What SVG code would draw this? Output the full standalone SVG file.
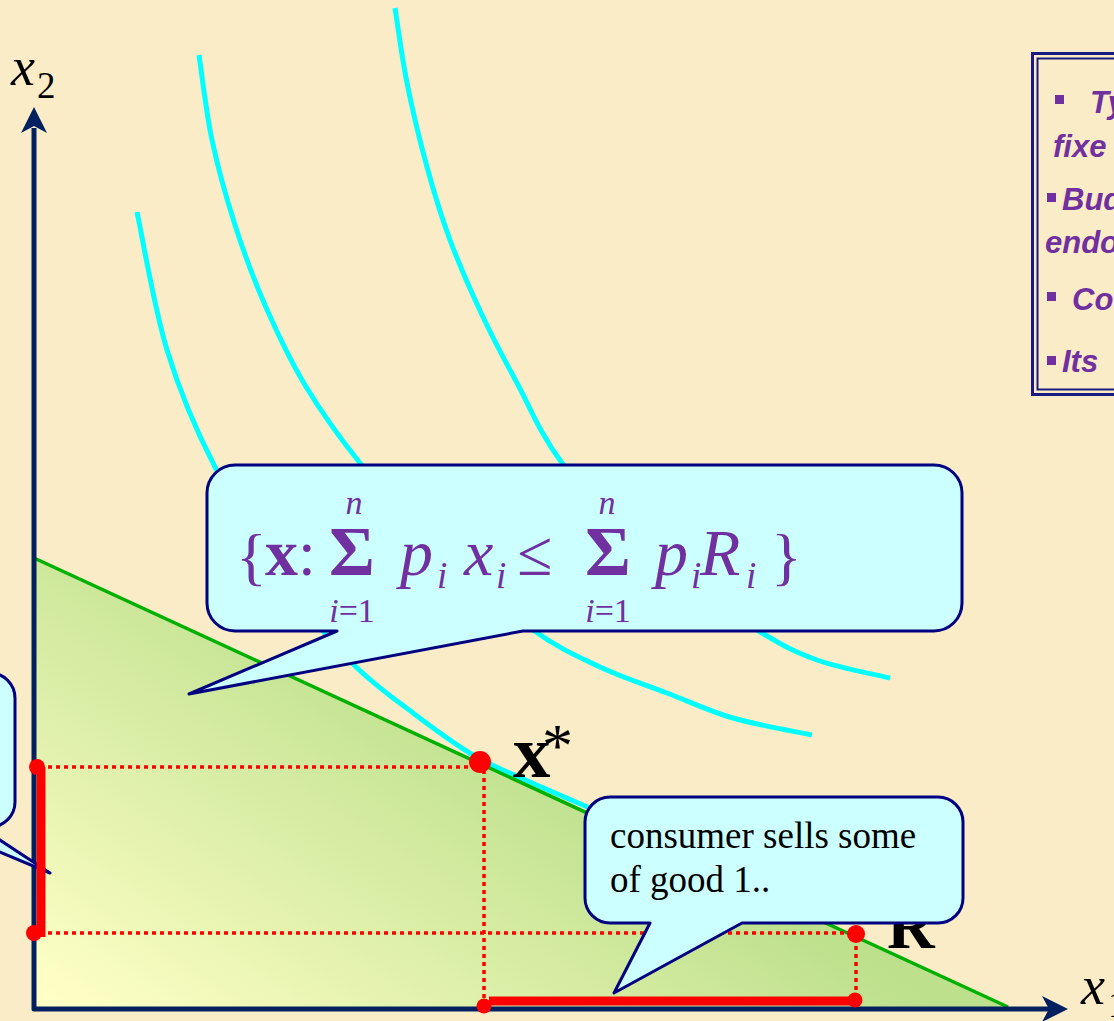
<svg xmlns="http://www.w3.org/2000/svg" width="1114" height="1021" viewBox="0 0 1114 1021">
  <style>
    .curve{fill:none;stroke:#00FFFF;stroke-width:5}
    .dot{fill:#FF0000}
    .dotted{fill:none;stroke:#FF0000;stroke-width:3.5;stroke-dasharray:4 4}
    .bar{fill:none;stroke:#FF0000;stroke-width:9}
    .bubble{fill:#CCFFFF;stroke:#000080;stroke-width:3;stroke-linejoin:round}
    .f{font-family:"Liberation Serif","Times New Roman",serif;fill:#7030A0}
    .fi{font-style:italic}
    .lab{font-family:"Liberation Serif","Times New Roman",serif;fill:#000}
    .panel{font-family:"Liberation Sans",Arial,sans-serif;font-weight:bold;font-style:italic;font-size:31px;fill:#7030A0}
    .bt{font-family:"Liberation Serif","Times New Roman",serif;font-size:37px;fill:#000}
  </style>
  <defs>
    <linearGradient id="budgetFill" gradientUnits="userSpaceOnUse" x1="60" y1="1008" x2="330" y2="600">
      <stop offset="0" stop-color="#FFFFC6"/>
      <stop offset="1" stop-color="#BCE08C"/>
    </linearGradient>
  </defs>
  <rect x="0" y="0" width="1114" height="1021" fill="#FBECC8"/>

  <g id="info-panel">
    <rect x="1032.5" y="53.5" width="200" height="341" fill="none" stroke="#1A1A80" stroke-width="3"/>
    <rect x="1037.5" y="58.5" width="200" height="331" fill="none" stroke="#1A1A80" stroke-width="2"/>
    <rect x="1055" y="95" width="9" height="9" fill="#7030A0"/>
    <text class="panel" x="1090" y="113">Ty</text>
    <text class="panel" x="1053" y="157">fixe</text>
    <rect x="1047" y="193" width="9" height="9" fill="#7030A0"/>
    <text class="panel" x="1062" y="210">Bud</text>
    <text class="panel" x="1045" y="253">endo</text>
    <rect x="1047" y="292" width="9" height="9" fill="#7030A0"/>
    <text class="panel" x="1072" y="310">Co</text>
    <rect x="1047" y="356" width="9" height="9" fill="#7030A0"/>
    <text class="panel" x="1062" y="372">Its</text>
  </g>

  <g id="indifference-curves">
    <path id="ic1" class="curve" d="M137,212 C142,235 154,307.5 167,350 C180,392.5 194.5,427.3 215,467 C235.5,506.7 267.2,555.3 290,588 C312.8,620.7 331.5,642.2 352,663 C372.5,683.8 392.8,697.7 413,713 C433.2,728.3 453.5,743.5 473,755 C492.5,766.5 510.5,773.2 530,782 C549.5,790.8 580,803.7 590,808"/>
    <path id="ic2" class="curve" d="M199,55 C201.2,69.2 206,111.7 212,140 C218,168.3 226.2,197.5 235,225 C243.8,252.5 253.3,278.3 265,305 C276.7,331.7 289.2,358.7 305,385 C320.8,411.3 337.5,435 360,463 C382.5,491 411.2,525.2 440,553 C468.8,580.8 506.3,611 533,630 C559.7,649 577.7,656.5 600,667 C622.3,677.5 644.8,684.5 667,693 C689.2,701.5 708.8,711 733,718 C757.2,725 798.8,732.2 812,735"/>
    <path id="ic3" class="curve" d="M395,8 C397,20.5 401.7,56.5 407,83 C412.3,109.5 419.8,140.8 427,167 C434.2,193.2 440.7,215 450,240 C459.3,265 471.8,293.2 483,317 C494.2,340.8 503.8,358.7 517,383 C530.2,407.3 539.8,433.5 562,463 C584.2,492.5 617.5,532.2 650,560 C682.5,587.8 729.2,613.3 757,630 C784.8,646.7 794.8,652 817,660 C839.2,668 877.8,675 890,678"/>
  </g>

  <g id="budget-set">
    <polygon points="34,558 1008,1007 34,1007" fill="url(#budgetFill)"/>
    <line x1="34" y1="558" x2="1008" y2="1007" stroke="#00B000" stroke-width="3.5"/>
  </g>

  <g id="guides">
    <line class="dotted" x1="40" y1="767" x2="476" y2="767"/>
    <line class="dotted" x1="484" y1="770" x2="484" y2="1000"/>
    <line class="dotted" x1="40" y1="933" x2="852" y2="933"/>
    <line class="dotted" x1="856" y1="938" x2="856" y2="996"/>
  </g>

  <g id="axes">
    <path d="M34,128 V1009 H1050" fill="none" stroke="#002060" stroke-width="5" stroke-linejoin="round"/>
    <polygon points="34,107 47,133 34,126 21,133" fill="#002060"/>
    <polygon points="1068,1009 1042,996 1049,1009 1042,1022" fill="#002060"/>
    <text class="lab fi" x="11" y="85" font-size="54">x</text>
    <text class="lab" x="37" y="98" font-size="37">2</text>
    <text class="lab fi" x="1081" y="1004" font-size="54">x</text>
    <text class="lab" x="1108" y="1017" font-size="37">1</text>
  </g>

  <g id="left-callout">
    <path class="bubble" d="M-100,673 H-10 A25,25 0 0 1 15,698 V802 A25,25 0 0 1 -10,827 H-20 L50,873 L-60,827 H-100 Z"/>
  </g>

  <g id="red-marks">
    <line class="bar" x1="41" y1="767" x2="41" y2="937"/>
    <line class="bar" x1="489" y1="1001" x2="855" y2="1001"/>
    <circle class="dot" cx="37" cy="767" r="8"/>
    <circle class="dot" cx="34" cy="933" r="8"/>
    <circle class="dot" cx="484" cy="1006" r="7.5"/>
    <circle class="dot" cx="855" cy="1000" r="7.5"/>
    <circle class="dot" cx="856" cy="934" r="9"/>
  </g>

  <g id="point-R">
    <text class="lab" x="887" y="948" font-size="66" font-weight="bold">R</text>
  </g>

  <g id="point-xstar">
    <circle class="dot" cx="480" cy="762" r="11"/>
    <text class="lab" x="513" y="777" font-size="75" font-weight="bold">x</text>
    <text class="lab" x="542" y="766" font-size="62">*</text>
  </g>

  <g id="formula-callout">
    <path class="bubble" d="M235,465 H934 A28,28 0 0 1 962,493 V603 A28,28 0 0 1 934,631 H523 L189,694 L337,631 H235 A28,28 0 0 1 207,603 V493 A28,28 0 0 1 235,465 Z"/>
    <text class="f" x="236" y="578" font-size="64">{</text>
    <text class="f" x="265" y="575" font-size="66" font-weight="bold">x</text>
    <text class="f" x="298" y="575" font-size="64">:</text>
    <text class="f" x="352" y="575" font-size="70" font-weight="bold" text-anchor="middle">Σ</text>
    <text class="f fi" x="354" y="514" font-size="34" text-anchor="middle">n</text>
    <text class="f" x="352" y="622" font-size="34" text-anchor="middle"><tspan font-style="italic">i</tspan>=1</text>
    <text class="f fi" x="400" y="575" font-size="66">p</text>
    <text class="f fi" x="437" y="588" font-size="37">i</text>
    <text class="f fi" x="464" y="575" font-size="66">x</text>
    <text class="f fi" x="496" y="588" font-size="37">i</text>
    <text class="f" x="517" y="575" font-size="64">≤</text>
    <text class="f" x="608" y="575" font-size="70" font-weight="bold" text-anchor="middle">Σ</text>
    <text class="f fi" x="607" y="514" font-size="34" text-anchor="middle">n</text>
    <text class="f" x="608" y="622" font-size="34" text-anchor="middle"><tspan font-style="italic">i</tspan>=1</text>
    <text class="f fi" x="655" y="575" font-size="66">p</text>
    <text class="f fi" x="691" y="588" font-size="37">i</text>
    <text class="f fi" x="700" y="575" font-size="66">R</text>
    <text class="f fi" x="746" y="588" font-size="37">i</text>
    <text class="f" x="771" y="578" font-size="64">}</text>
  </g>

  <g id="sell-callout">
    <path class="bubble" d="M610,797 H938 A25,25 0 0 1 963,822 V898 A25,25 0 0 1 938,923 H742 L614,993 L650,923 H610 A25,25 0 0 1 585,898 V822 A25,25 0 0 1 610,797 Z"/>
    <text class="bt" x="610" y="848">consumer sells some</text>
    <text class="bt" x="610" y="892">of good 1..</text>
  </g>
</svg>
